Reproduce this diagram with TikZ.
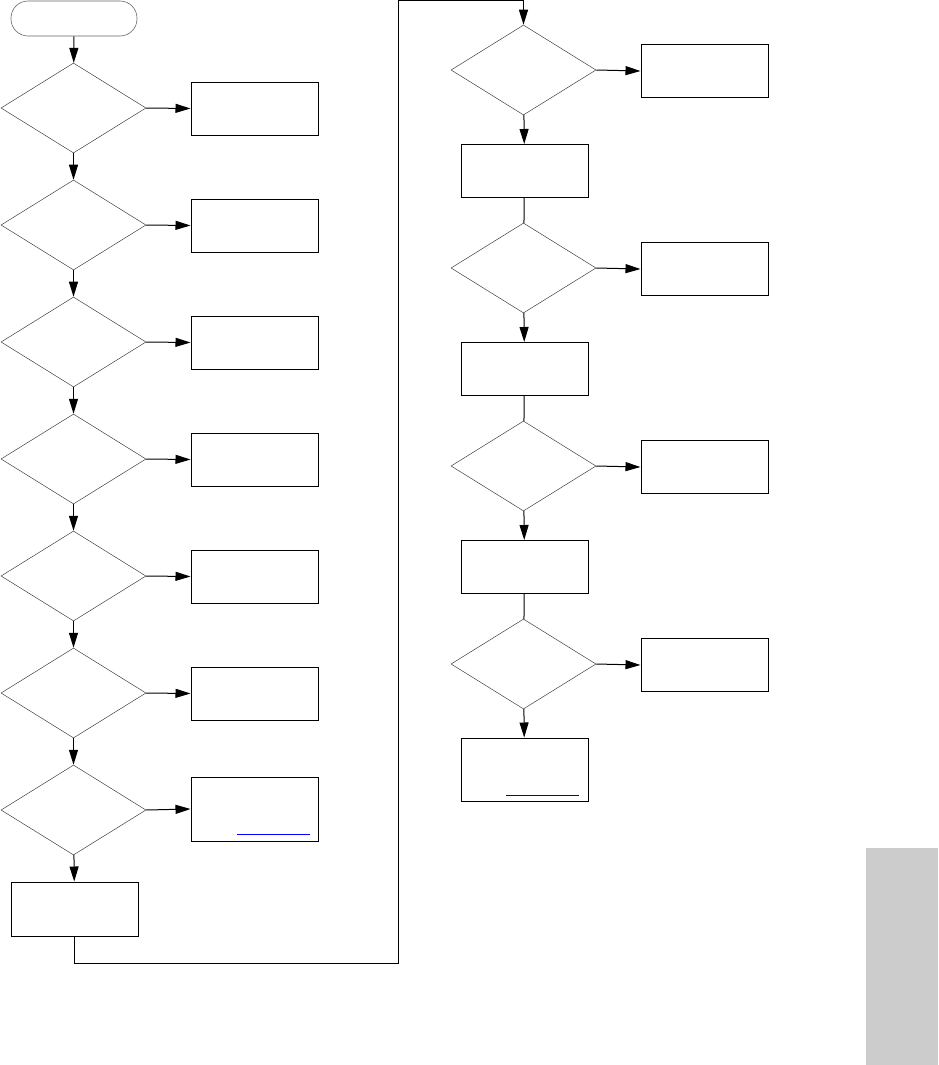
\documentclass[tikz,border=0pt]{standalone}
\usetikzlibrary{shapes.geometric,arrows.meta}
\tikzset{
  decision/.style={diamond, draw=black!75, line width=0.5pt, minimum width=145pt, minimum height=90pt, inner sep=0pt},
  action/.style={rectangle, draw, line width=1pt, minimum width=127pt, minimum height=53pt, inner sep=0pt},
  flow/.style={line width=1pt, -{Triangle[length=15pt,width=9pt]}},
  link/.style={line width=1pt}
}
\begin{document}
\begin{tikzpicture}[x=1pt,y=-1pt]
    \useasboundingbox (0,0) rectangle (938,1065);
    \fill[black!20] (866,848) rectangle (938,1065);
    % left column
    \node[draw=black!60, line width=0.6pt, rounded corners=17pt, minimum width=126pt, minimum height=35pt] (start) at (74,18.5) {};
    \foreach \i in {1,...,7} { \node[decision] (q\i) at (73.5,{108+117*(\i-1)}) {}; }
    \foreach \i in {1,...,6} { \node[action] (a\i) at (254.5,{108.5+117*(\i-1)}) {}; }
    \node[action, minimum height=64pt] (a7) at (254.5,809) {};
    \node[action, minimum height=54pt] (pa) at (74.5,909) {};
    \draw[flow] (start) -- (q1);
    \foreach \i [count=\j from 2] in {1,...,6} { \draw[flow] (q\i) -- (q\j); }
    \foreach \i in {1,...,7} { \draw[flow] (q\i.east) -- (a\i.west); }
    \draw[flow] (q7) -- (pa);
    \draw[link, blue] (237,834) -- (310,834);
    % jump to the right column
    \coordinate (jogA) at (398,963);
    \coordinate (jogB) at (398,1);
    % right column
    \foreach \i in {1,...,4} {
        \node[decision] (e\i) at (523.5,{70+198*(\i-1)}) {};
        \node[action] (b\i) at (704.5,{71+198*(\i-1)}) {};
        \draw[flow] (e\i.east) -- (b\i.west);
    }
    \foreach \i in {1,...,3} { \node[action] (p\i) at (524.5,{171+198*(\i-1)}) {}; }
    \node[action, minimum height=63pt] (p4) at (524.5,769.5) {};
    \draw[flow] (pa.south) |- (jogA) -- (jogB) -| (e1.north);
    \foreach \i in {1,...,4} { \draw[flow] (e\i) -- (p\i); }
    \foreach \i [count=\j from 2] in {1,...,3} { \draw[link] (p\i) -- (e\j); }
    \draw[link, blue!70!black] (506,795) -- (579,795);
\end{tikzpicture}
\end{document}
